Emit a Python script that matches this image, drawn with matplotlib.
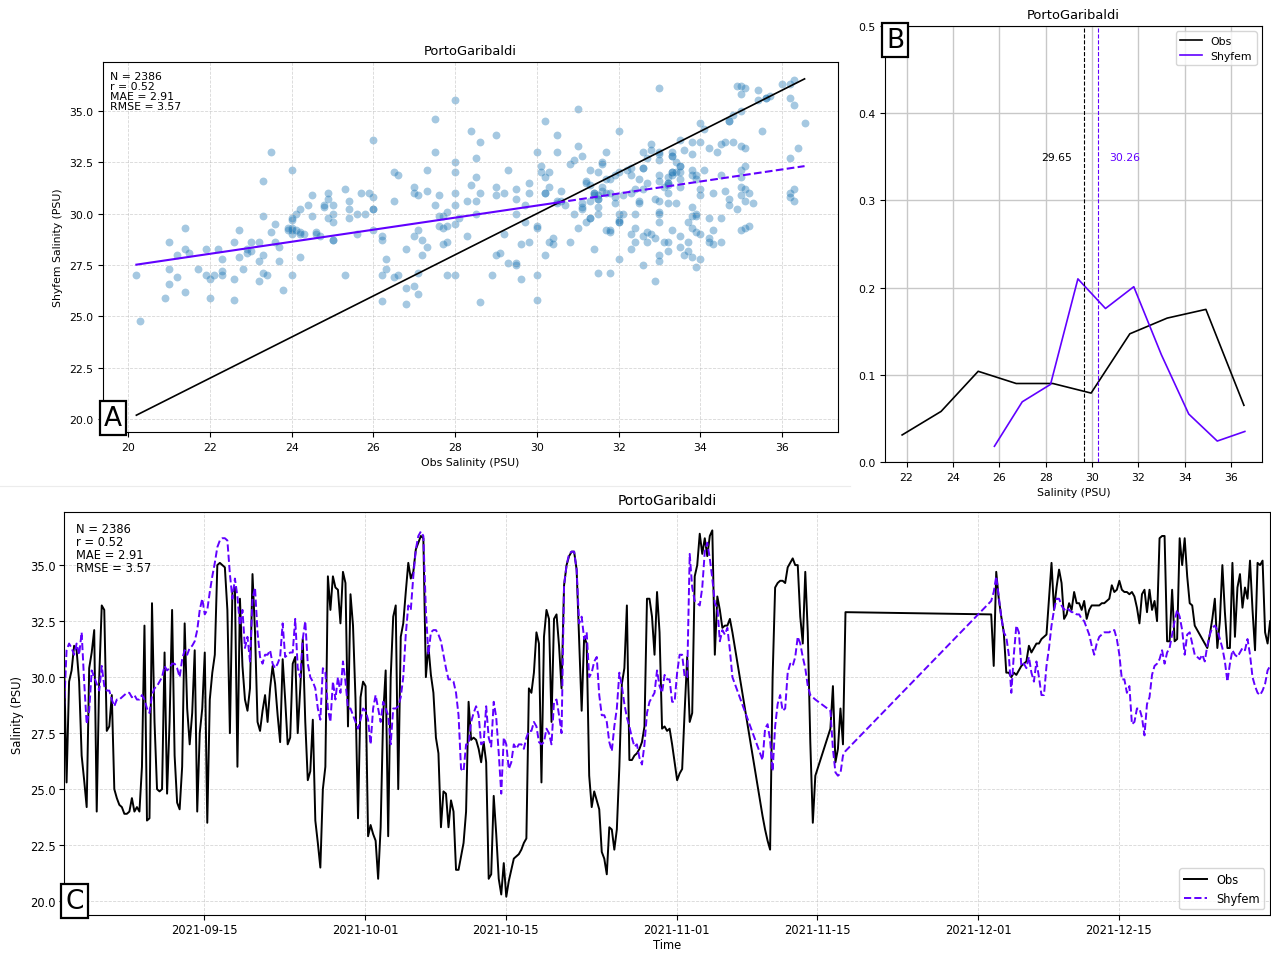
import numpy as np
import pandas as pd
import matplotlib
matplotlib.use('Agg')
import matplotlib.pyplot as plt
import matplotlib.dates as mdates
from matplotlib.lines import Line2D
from matplotlib.offsetbox import AnchoredText

station = 'PortoGaribaldi'
purple = '#6100ff'

# 6-hourly samples, days since 2021-09-01 01:00; gaps are left out
seg_days = [(0.0, 66.5), (69.5, 74.75), (76.25, 77.75), (92.25, 120.0)]

# observed salinity (PSU)
obs_a = [30.8, 25.3, 29.8, 30.3, 31.4, 31.2, 29.8, 26.5, 25.4, 24.2,
         30.4, 31.1, 32.1, 24.0, 30.0, 33.2, 33.0, 27.6, 27.8, 29.2,
         25.0, 24.6, 24.3, 24.2, 23.9, 23.9, 24.0, 24.6, 24.0, 24.2,
         24.0, 26.0, 32.3, 23.6, 23.7, 33.3, 28.0, 25.0, 24.9, 25.0,
         31.1, 24.8, 28.0, 33.0, 26.5, 24.4, 24.1, 26.0, 32.4, 28.6,
         27.0, 28.4, 31.2, 24.0, 27.5, 28.6, 31.1, 23.5, 29.0, 30.2,
         31.0, 35.0, 35.1, 35.0, 34.9, 33.0, 27.5, 33.8, 34.0, 26.0,
         33.5, 30.5, 29.0, 28.5, 29.5, 34.6, 32.0, 28.0, 27.6, 28.5]
obs_b = [29.2, 28.0, 29.5, 30.5, 29.7, 28.3, 27.1, 30.8, 29.0, 27.0,
         27.3, 30.6, 30.9, 27.5, 29.5, 31.7, 28.0, 25.4, 25.8, 28.1,
         23.6, 22.6, 21.5, 25.0, 26.0, 34.5, 33.0, 34.5, 34.0, 33.9,
         32.4, 34.7, 34.2, 27.8, 33.7, 32.3, 29.0, 23.7, 29.1, 29.8,
         29.6, 22.9, 23.4, 23.0, 22.7, 21.0, 23.3, 28.3, 30.3, 22.9,
         30.0, 32.7, 33.2, 25.0, 31.8, 32.4, 33.8, 35.1, 34.4, 34.7,
         35.7, 36.0, 36.3, 36.2, 30.0, 31.4, 30.1, 29.3, 27.3, 26.6,
         23.3, 24.9, 24.8, 23.3, 24.5, 24.0, 21.4, 21.4, 22.0, 22.6]
obs_c = [24.0, 28.9, 27.2, 27.3, 27.2, 26.8, 26.2, 27.1, 26.2, 21.0,
         21.2, 24.7, 23.0, 21.0, 20.3, 21.7, 20.2, 20.9, 21.4, 21.9,
         22.0, 22.1, 22.3, 22.6, 22.8, 29.5, 29.3, 30.2, 32.0, 31.5,
         25.3, 31.8, 33.0, 32.6, 28.0, 32.6, 32.8, 31.4, 29.5, 34.1,
         35.0, 35.4, 35.6, 35.6, 34.8, 31.6, 28.5, 31.8, 31.5, 25.6,
         24.2, 24.9, 24.5, 24.1, 22.2, 21.9, 21.2, 23.3, 23.2, 22.3,
         23.2, 26.0, 29.7, 30.4, 33.2, 26.3, 26.3, 26.5, 26.6, 26.8,
         27.1, 27.8, 33.5, 33.5, 32.7, 31.0, 33.8, 32.0, 27.7, 27.8]
obs_d = [27.6, 27.7, 27.0, 26.2, 25.4, 25.7, 25.9, 28.5, 30.9, 28.0,
         28.4, 34.5, 35.0, 36.4, 35.5, 36.2, 35.4, 36.3, 36.55, 31.0,
         33.6, 33.0, 32.2, 32.3, 32.3, 32.6, 32.0]
obs_e = [23.8, 23.2, 22.7, 22.3, 30.0, 34.0, 34.2, 34.3, 34.3, 34.2,
         34.9, 35.1, 35.3, 35.0, 35.0, 32.7, 31.5, 34.7, 32.0, 27.1,
         23.5, 25.6]
obs_f = [27.7, 29.6, 26.2, 26.8, 28.6, 27.0, 32.9]
obs_g = [32.8, 30.5, 34.7, 33.5, 32.7, 32.0, 30.2, 30.2, 30.0, 30.2,
         30.1, 30.3, 30.5, 30.6, 30.7, 31.4, 31.1, 31.3, 31.5, 31.5,
         31.7, 31.8, 31.9, 33.5, 35.1, 33.0, 34.0, 34.8, 34.2, 32.6,
         32.8]
obs_h = [33.3, 33.0, 33.8, 33.3, 33.3, 33.0, 33.4, 32.6, 33.0, 33.2,
         33.2, 33.2, 33.2, 33.3, 33.3, 33.4, 33.5, 34.1, 33.8, 33.9,
         34.3, 33.9, 33.8, 33.8, 33.7, 33.8, 33.6, 33.1, 32.4, 33.7,
         33.9, 32.9, 33.9, 33.0, 33.4, 32.5, 36.2, 36.3, 36.3, 31.6,
         31.6, 33.9, 31.6, 31.7, 36.2, 35.0, 36.2, 34.5, 33.3, 33.2,
         32.3, 32.1, 31.9, 31.7, 31.5, 31.3, 31.9, 32.6, 33.5, 31.3,
         32.5, 35.0, 32.9, 31.3, 31.3, 35.1, 31.8, 34.0, 34.6, 33.1,
         34.0, 33.5, 35.2, 33.0, 31.2, 35.1, 35.0, 35.2, 32.0, 31.5,
         32.5]

# Shyfem model salinity (PSU), same times
shy_a = [28.6, 31.2, 31.5, 31.3, 31.0, 31.5, 31.0, 32.0, 29.8, 27.9,
         28.5, 30.3, 30.0, 29.7, 29.4, 30.5, 29.6, 29.4, 29.4, 29.0,
         28.7, 29.0, 29.0, 29.1, 29.2, 29.3, 29.3, 29.1, 29.2, 29.0,
         29.0, 29.2, 29.0, 28.6, 28.4, 29.2, 29.5, 29.6, 29.8, 30.0,
         30.5, 30.3, 30.4, 30.6, 30.6, 30.4, 30.0, 30.8, 31.2, 31.0,
         31.3, 31.4, 31.6, 32.1, 33.0, 33.5, 32.8, 33.0, 33.8, 34.5,
         35.1, 35.8, 36.1, 36.2, 36.2, 36.1, 34.6, 33.5, 34.4, 33.6,
         32.3, 33.0, 31.3, 31.8, 30.7, 33.5, 34.0, 32.0, 30.9, 30.6]
shy_b = [31.0, 31.0, 31.2, 30.6, 30.4, 30.6, 30.9, 32.4, 30.9, 31.0,
         31.1, 31.1, 32.6, 30.4, 30.0, 31.7, 32.5, 30.6, 30.0, 29.8,
         29.5, 28.6, 28.1, 30.4, 30.2, 28.6, 28.0, 29.8, 29.0, 30.0,
         29.3, 30.7, 29.8, 28.6, 28.6, 28.3, 28.0, 27.7, 28.1, 28.6,
         28.5, 28.1, 27.0, 28.6, 29.2, 28.6, 28.0, 28.9, 28.6, 28.3,
         27.0, 28.6, 28.6, 28.7, 29.1, 30.0, 31.9, 33.2, 33.0, 34.5,
         35.7, 36.3, 36.5, 36.3, 33.0, 31.0, 32.0, 32.1, 32.1, 31.9,
         31.6, 31.0, 30.4, 29.9, 29.9, 29.8, 29.3, 28.3, 25.9, 25.8]
shy_c = [27.0, 27.0, 28.0, 28.4, 28.7, 28.3, 27.0, 27.1, 28.7, 27.3,
         26.9, 28.9, 28.2, 26.6, 24.8, 27.3, 27.0, 25.9, 26.2, 27.0,
         26.8, 27.0, 27.0, 26.8, 27.3, 27.6, 27.6, 28.0, 27.8, 27.1,
         27.0, 27.1, 27.7, 27.5, 27.0, 28.9, 29.0, 28.3, 27.5, 34.1,
         35.0, 35.5, 35.6, 35.6, 34.8, 32.4, 32.7, 31.7, 32.0, 30.0,
         30.2, 30.7, 30.9, 29.2, 28.3, 28.3, 28.0, 27.1, 26.7, 27.8,
         28.6, 30.2, 29.6, 28.8, 28.2, 27.8, 27.3, 26.9, 27.0, 26.4,
         26.1, 27.0, 28.4, 28.9, 29.1, 29.3, 30.3, 29.6, 29.3, 30.1]
shy_d = [29.9, 29.9, 28.9, 28.9, 30.2, 31.0, 31.0, 30.0, 30.0, 35.5,
         34.0, 33.4, 33.3, 33.2, 34.0, 35.6, 36.0, 35.3, 34.4, 33.3,
         33.1, 31.6, 32.1, 31.9, 32.2, 31.2, 30.0]
shy_e = [26.3, 27.7, 27.9, 27.2, 25.8, 27.8, 28.8, 29.2, 28.5, 28.6,
         30.2, 30.6, 30.5, 30.9, 31.8, 31.5, 30.9, 30.4, 29.6, 29.2,
         29.1, 29.0]
shy_f = [28.5, 26.8, 25.75, 25.6, 25.7, 26.5, 26.7]
shy_g = [33.4, 33.8, 34.5, 33.6, 32.7, 32.0, 31.8, 31.0, 29.3, 31.0,
         32.3, 32.0, 30.5, 30.6, 30.4, 30.9, 30.2, 29.8, 30.7, 30.0,
         29.2, 29.2, 30.5, 31.3, 32.3, 33.0, 33.5, 33.5, 33.2, 33.0,
         33.1]
shy_h = [33.0, 32.9, 32.9, 32.8, 32.8, 32.6, 32.5, 32.2, 31.9, 31.4,
         31.0, 31.5, 31.8, 31.9, 32.0, 32.0, 32.0, 32.1, 32.1, 31.7,
         31.0, 29.9, 29.9, 29.3, 29.6, 27.9, 28.0, 28.6, 28.6, 28.2,
         27.4, 28.8, 29.1, 30.1, 30.5, 30.6, 30.8, 31.2, 30.6, 31.1,
         31.3, 31.9, 32.5, 33.0, 32.7, 32.1, 31.0, 31.9, 32.0, 31.5,
         31.0, 30.9, 30.8, 31.0, 30.7, 31.4, 31.9, 32.2, 32.3, 32.1,
         31.7, 31.3, 30.7, 29.8, 30.6, 31.2, 31.0, 30.9, 31.1, 31.3,
         31.2, 31.7, 31.0, 30.0, 29.6, 29.3, 29.2, 29.4, 29.7, 30.3,
         30.5]

# salinity distributions (bin centre, relative frequency)
hist_obs_x = [21.81, 23.49, 25.09, 26.73, 28.31, 29.96, 31.63, 33.24, 34.91, 36.55]
hist_obs_y = [0.031, 0.058, 0.104, 0.090, 0.090, 0.079, 0.147, 0.165, 0.175, 0.065]
hist_shy_x = [25.79, 26.99, 28.21, 29.39, 30.58, 31.80, 32.99, 34.17, 35.40, 36.59]
hist_shy_y = [0.018, 0.069, 0.089, 0.210, 0.176, 0.201, 0.123, 0.055, 0.024, 0.035]
mean_obs = 29.65
mean_shy = 30.26

# linear fit Shyfem vs Obs
fit_slope = 0.293
fit_intercept = 21.60
fit_solid_end = 30.5

stats = 'N = 2386\nr = 0.52\nMAE = 2.91\nRMSE = 3.57'

obs = np.array(obs_a + obs_b + obs_c + obs_d + obs_e + obs_f + obs_g + obs_h)
shy = np.array(shy_a + shy_b + shy_c + shy_d + shy_e + shy_f + shy_g + shy_h)
days = np.concatenate([np.arange(a, b + 0.125, 0.25) for a, b in seg_days])
times = pd.Timestamp('2021-09-01 01:00') + pd.to_timedelta(days, unit='D')

fs = 7.8


def panel_label(ax, letter, loc):
    at = AnchoredText(letter, loc=loc, pad=0.05, borderpad=0,
                      prop=dict(size=19))
    at.patch.set_linewidth(1.6)
    at.patch.set_boxstyle('square,pad=0.1')
    ax.add_artist(at)


fig = plt.figure(figsize=(12.71, 9.54), dpi=100)

# faint frame left between the top-left and bottom panels
fig.add_artist(Line2D([0, 0.669], [0.4895, 0.4895], color='#ececec', lw=0.8))

# --- A: scatter
axA = fig.add_axes([0.0810, 0.5461, 0.5783, 0.3878])
axA.scatter(obs, shy, s=32, alpha=0.4, color='C0', linewidths=0)
lo, hi = obs.min(), obs.max()
axA.plot([lo, hi], [lo, hi], color='k', lw=1.2)
xs = np.array([lo, fit_solid_end])
axA.plot(xs, fit_slope * xs + fit_intercept, color=purple, lw=1.5)
xs = np.array([fit_solid_end, hi])
axA.plot(xs, fit_slope * xs + fit_intercept, '--', color=purple, lw=1.5)
axA.set_xticks(np.arange(20, 37, 2))
axA.set_yticks(np.arange(20, 35.1, 2.5))
axA.grid(True, linestyle='--', lw=0.6, alpha=0.5)
axA.tick_params(labelsize=fs)
axA.set_xlabel('Obs Salinity (PSU)', fontsize=fs)
axA.set_ylabel('Shyfem Salinity (PSU)', fontsize=fs)
axA.set_title(station, fontsize=fs * 1.2)
axA.text(0.01, 0.975, stats, transform=axA.transAxes, va='top', ha='left',
         fontsize=fs, linespacing=1.0)
panel_label(axA, 'A', 'lower left')

# --- B: distributions
axB = fig.add_axes([0.6963, 0.5147, 0.2966, 0.4570])
axB.plot(hist_obs_x, hist_obs_y, color='k', lw=1.2, label='Obs')
axB.plot(hist_shy_x, hist_shy_y, color=purple, lw=1.2, label='Shyfem')
axB.axvline(mean_obs, color='k', ls='--', lw=0.8)
axB.axvline(mean_shy, color=purple, ls='--', lw=0.8)
axB.text(mean_obs - 0.5, 0.35, f'{mean_obs:.2f}', ha='right', va='center', fontsize=fs)
axB.text(mean_shy + 0.5, 0.35, f'{mean_shy:.2f}', ha='left', va='center',
         fontsize=fs, color=purple)
axB.set_ylim(0, 0.5)
axB.set_xticks(np.arange(22, 37, 2))
axB.set_yticks(np.arange(0, 0.51, 0.1))
axB.grid(True, color='#c8c8c8', lw=1.0)
axB.tick_params(labelsize=fs)
axB.set_xlabel('Salinity (PSU)', fontsize=fs)
axB.set_title(station, fontsize=fs * 1.2)
axB.legend(loc='upper right', fontsize=fs)
panel_label(axB, 'B', 'upper left')

# --- C: time series
fc = 8.3
axC = fig.add_axes([0.0504, 0.0398, 0.9489, 0.4224])
axC.plot(times, obs, color='k', lw=1.4, label='Obs')
axC.plot(times, shy, '--', color=purple, lw=1.4, label='Shyfem')
axC.set_xlim(times[0], times[-1])
axC.set_yticks(np.arange(20, 35.1, 2.5))
axC.xaxis.set_major_locator(mdates.DayLocator(bymonthday=[1, 15]))
axC.xaxis.set_major_formatter(mdates.DateFormatter('%Y-%m-%d'))
axC.grid(True, linestyle='--', lw=0.6, alpha=0.5)
axC.tick_params(labelsize=fc, pad=2.5)
axC.set_xlabel('Time', fontsize=fc, labelpad=1)
axC.set_ylabel('Salinity (PSU)', fontsize=fc)
axC.set_title(station, fontsize=10)
axC.text(0.01, 0.975, stats, transform=axC.transAxes, va='top', ha='left',
         fontsize=fc, linespacing=1.0)
axC.legend(loc='lower right', fontsize=fc)
panel_label(axC, 'C', 'lower left')

fig.savefig('out.png', dpi=100)
